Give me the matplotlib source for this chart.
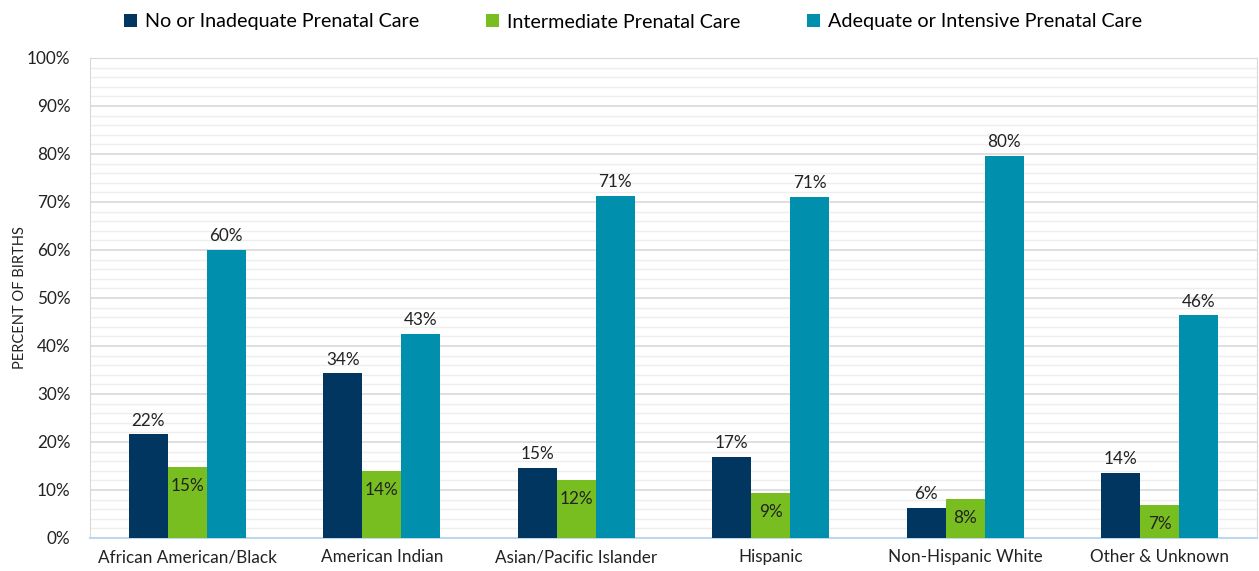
import numpy as np
import matplotlib.pyplot as plt
from matplotlib.ticker import MultipleLocator, PercentFormatter

categories = ['African American/Black', 'American Indian', 'Asian/Pacific Islander',
              'Hispanic', 'Non-Hispanic White', 'Other & Unknown']
no_care = [21.6, 34.3, 14.6, 16.9, 6.3, 13.6]
intermediate = [14.8, 14.0, 12.0, 9.4, 8.1, 6.8]
adequate = [60.1, 42.6, 71.3, 71.1, 79.6, 46.4]
series_names = ['No or Inadequate Prenatal Care', 'Intermediate Prenatal Care',
                'Adequate or Intensive Prenatal Care']
colors = ['#003660', '#78BE20', '#008FAD']

plt.rcParams['font.family'] = ['Lato', 'DejaVu Sans']

fig = plt.figure(figsize=(12.59, 5.71), dpi=100)
ax = fig.add_axes([90 / 1259, 33 / 571, 1167 / 1259, 480 / 571])

x = np.arange(len(categories))
w = 0.2
all_series = [no_care, intermediate, adequate]
for i, (vals, name, c) in enumerate(zip(all_series, series_names, colors)):
    bars = ax.bar(x + (i - 1) * w, vals, w, color=c, label=name, zorder=3)
    for b, v in zip(bars, vals):
        cx = b.get_x() + b.get_width() / 2
        if i == 1:
            # green labels sit inside the bar top
            ax.text(cx, v - 2.3, f'{round(v):.0f}%', ha='center', va='top',
                    fontsize=12.3, color='#222222', zorder=4)
        else:
            ax.text(cx, v + 1.2, f'{round(v):.0f}%', ha='center', va='bottom',
                    fontsize=12.3, color='#222222', zorder=4)

ax.set_xlim(-0.5, len(categories) - 0.5)
ax.set_ylim(0, 100)
ax.yaxis.set_major_locator(MultipleLocator(10))
ax.yaxis.set_minor_locator(MultipleLocator(2))
ax.yaxis.set_major_formatter(PercentFormatter(decimals=0))
ax.grid(axis='y', which='major', color='#d9d9d9', linewidth=1.2, zorder=0)
ax.grid(axis='y', which='minor', color='#eeeeee', linewidth=1.0, zorder=0)
ax.tick_params(axis='y', which='both', length=0, labelsize=12.3, pad=14, colors='#222222')
ax.tick_params(axis='x', length=0, labelsize=12.3, pad=8, colors='#222222')
ax.set_xticks(x)
ax.set_xticklabels(categories)
ax.set_ylabel('PERCENT OF BIRTHS', fontsize=10.5, color='#222222', labelpad=0)

for s in ['left', 'right', 'top']:
    ax.spines[s].set_color('#d9d9d9')
ax.spines['bottom'].set_color('#bdd7ee')
ax.spines['bottom'].set_linewidth(1.5)

fig.legend(loc='center', bbox_to_anchor=(633 / 1259, 1 - 22 / 571), ncol=3,
           frameon=False, fontsize=14.2, handlelength=0.65, handleheight=0.65,
           handletextpad=0.4, columnspacing=3.4)

fig.savefig('out.png', dpi=100)
